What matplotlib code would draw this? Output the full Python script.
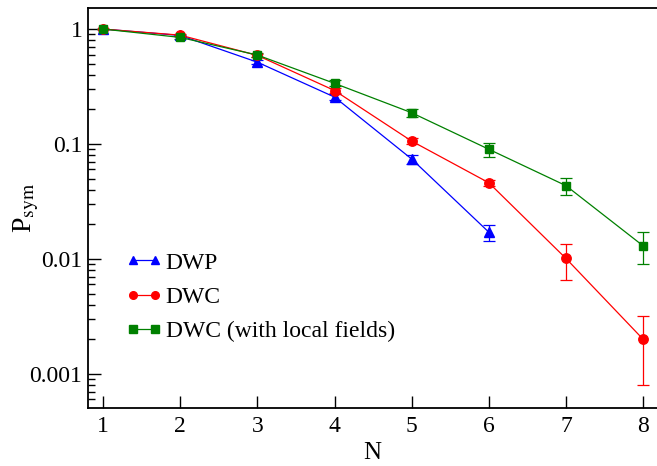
import numpy as np
import matplotlib
matplotlib.use("Agg")
import matplotlib.pyplot as plt
from matplotlib.lines import Line2D
from matplotlib.ticker import LogLocator, FuncFormatter

plt.rcParams['font.family'] = ['Liberation Serif', 'DejaVu Serif']
plt.rcParams['mathtext.fontset'] = 'stix'

# data
n_dwp = [1, 2, 3, 4, 5, 6]
p_dwp = [1.0, 0.88, 0.515, 0.256, 0.074, 0.0171]
e_dwp = [0.0, 0.01, 0.02, 0.015, 0.0068, 0.0028]

n_dwc = [1, 2, 3, 4, 5, 6, 7, 8]
p_dwc = [1.0, 0.885, 0.59, 0.292, 0.106, 0.046, 0.0101, 0.002]
e_dwc = [0.0, 0.02, 0.02, 0.015, 0.006, 0.003, 0.0035, 0.0012]

n_loc = [1, 2, 3, 4, 5, 6, 7, 8]
p_loc = [1.0, 0.846, 0.594, 0.337, 0.187, 0.09, 0.0434, 0.013]
e_loc = [0.0, 0.02, 0.02, 0.02, 0.014, 0.013, 0.0075, 0.004]

fig = plt.figure(figsize=(6.57, 4.66), dpi=100)
ax = fig.add_axes([0.134, 0.1245, 0.866, 0.858])

series = [
    (n_dwp, p_dwp, e_dwp, '#0000ff', '^', 7.0, 'DWP'),
    (n_dwc, p_dwc, e_dwc, '#ff0000', 'o', 6.8, 'DWC'),
    (n_loc, p_loc, e_loc, '#008000', 's', 5.8, 'DWC (with local fields)'),
]
handles = []
for n, p, e, c, m, ms, lab in series:
    ax.errorbar(n, p, yerr=e, color=c, marker=m, markersize=ms,
                lw=0.9, elinewidth=0.9, capsize=4.3, capthick=0.9)
    handles.append(Line2D([], [], color=c, marker=m, markersize=5.5, lw=0.9, label=lab))

ax.set_yscale('log')
ax.set_xlim(0.805, 8.18)
ax.set_ylim(0.000505, 1.52)
ax.set_xticks(range(1, 9))
ax.yaxis.set_major_locator(LogLocator(base=10, numticks=10))
ax.yaxis.set_minor_locator(LogLocator(base=10, subs=np.arange(2, 10), numticks=20))
ax.yaxis.set_major_formatter(FuncFormatter(lambda v, _: '%g' % v))
ax.yaxis.set_minor_formatter(FuncFormatter(lambda v, _: ''))

ax.tick_params(which='both', direction='in', top=False, right=False, labelsize=17)
ax.tick_params(axis='x', pad=6)
ax.tick_params(axis='y', pad=4)
ax.tick_params(which='major', length=9, width=1)
ax.tick_params(which='minor', length=5, width=1)
for s in ax.spines.values():
    s.set_linewidth(1.3)
ax.spines['right'].set_visible(False)

ax.set_xlabel('N', fontsize=18, va='baseline')
ax.xaxis.set_label_coords(0.5, -0.1275)
ax.set_ylabel(r'P$_{\rm sym}$', fontsize=20)
ax.yaxis.set_label_coords(-0.083, 0.5)

ax.legend(handles=handles, loc='center left', bbox_to_anchor=(0.067, 0.2775),
          frameon=False, fontsize=17, numpoints=2, borderpad=0, borderaxespad=0,
          handlelength=1.53, handletextpad=0.15, labelspacing=0.53)

fig.savefig('out.png', dpi=100)
